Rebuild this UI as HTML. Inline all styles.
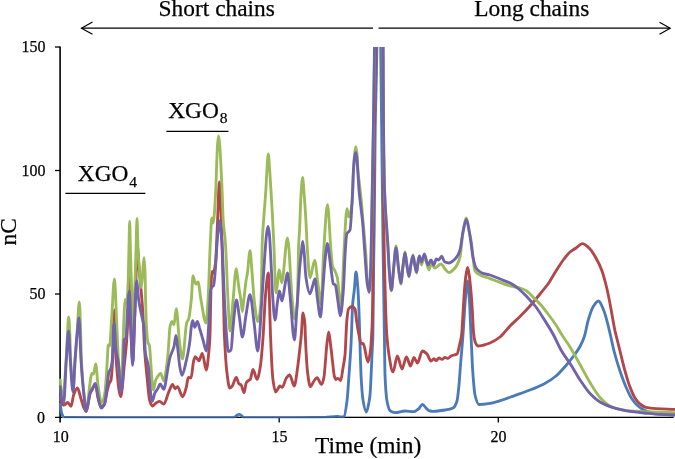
<!DOCTYPE html>
<html><head><meta charset="utf-8"><title>Chromatogram</title>
<style>
html,body{margin:0;padding:0;background:#fff;}
svg{display:block;}
text{font-family:"Liberation Serif",serif;fill:#000;}
.t{opacity:0.999;stroke:#000;stroke-width:0.25px;}
</style></head>
<body>
<svg width="675" height="459" viewBox="0 0 675 459">
<rect width="675" height="459" fill="#fff"/>
<defs><clipPath id="plot"><rect x="56" y="47" width="619" height="371.3"/></clipPath></defs>
<!-- axes -->
<g stroke="#000" fill="none">
<line x1="60.1" y1="46.4" x2="60.1" y2="422.6" stroke-width="1.6"/>
<line x1="55" y1="417.35" x2="673.6" y2="417.35" stroke-width="1.4"/>
<line x1="55" y1="47" x2="60" y2="47" stroke-width="1.3"/>
<line x1="55" y1="170.5" x2="60" y2="170.5" stroke-width="1.3"/>
<line x1="55" y1="294" x2="60" y2="294" stroke-width="1.3"/>
<line x1="279.2" y1="417" x2="279.2" y2="422.6" stroke-width="1.3"/>
<line x1="498.3" y1="417" x2="498.3" y2="422.6" stroke-width="1.3"/>
</g>
<!-- curves -->
<g clip-path="url(#plot)" fill="none" stroke-width="2.85" stroke-linejoin="round" stroke-linecap="round">
<path d="M60.3 404.0C60.8 408.0 61.2 411.8 61.7 413.3C62.4 415.4 63.0 417.3 63.7 417.3C65.8 417.4 67.9 417.4 70.0 417.4C80.0 417.5 90.0 417.6 100.0 417.6C133.3 417.6 166.7 417.6 200.0 417.6C211.2 417.6 222.3 417.6 233.5 417.6C234.2 417.6 234.8 417.0 235.5 416.6C236.2 416.2 236.8 415.2 237.5 414.9C238.0 414.7 238.6 414.4 239.1 414.4C239.6 414.4 240.2 414.7 240.7 414.9C241.3 415.2 241.9 416.2 242.5 416.6C243.1 417.0 243.6 417.6 244.2 417.6C262.8 417.6 281.4 417.6 300.0 417.6C308.3 417.6 316.7 417.5 325.0 417.4C329.0 417.3 333.0 416.4 337.0 416.4C338.3 416.4 339.7 417.0 341.0 417.0C342.0 417.0 343.0 416.9 344.0 416.6C345.0 416.3 346.0 408.6 347.0 401.0C347.7 395.9 348.3 384.3 349.0 375.0C349.7 365.7 350.3 357.4 351.0 345.0C351.6 334.5 352.1 311.2 352.7 304.0C353.2 297.2 353.8 295.1 354.3 290.0C354.9 284.6 355.4 272.0 356.0 272.0C356.7 272.0 357.3 281.0 358.0 290.0C358.4 295.8 358.9 308.6 359.3 321.0C359.5 327.7 359.8 337.5 360.0 345.0C360.3 355.7 360.7 368.8 361.0 375.0C361.7 387.3 362.3 396.1 363.0 400.0C364.1 406.6 365.3 412.0 366.4 412.0C367.3 412.0 368.1 406.5 369.0 402.0C369.3 400.3 369.7 398.3 370.0 395.0C370.7 388.4 371.3 369.1 372.0 355.0C372.3 348.6 372.6 345.9 372.9 335.0C373.2 325.3 373.4 280.5 373.7 261.0C373.9 248.8 374.0 242.4 374.2 230.0C374.5 205.1 374.9 152.5 375.2 130.0C375.8 91.7 376.3 90.2 376.9 47.0C377.5 -1.3 378.2 -300.0 378.8 -300.0C379.4 -300.0 380.1 -22.6 380.7 47.0C381.0 83.6 381.4 101.7 381.7 130.0C382.1 166.8 382.6 210.5 383.0 243.0C383.5 278.0 383.9 304.1 384.4 335.0C384.6 348.3 384.8 370.1 385.0 375.0C385.7 391.5 386.3 397.4 387.0 401.0C388.0 406.4 389.0 409.8 390.0 410.6C391.7 411.9 393.3 412.6 395.0 412.6C398.3 412.6 401.7 411.0 405.0 411.0C408.0 411.0 411.0 411.6 414.0 411.6C415.5 411.6 417.0 410.1 418.5 409.0C419.9 408.0 421.2 404.4 422.6 404.4C423.7 404.4 424.9 406.9 426.0 408.0C427.0 409.0 428.0 410.3 429.0 410.6C430.3 411.0 431.7 411.4 433.0 411.4C437.0 411.4 441.0 410.7 445.0 410.0C447.7 409.6 450.3 409.3 453.0 408.0C454.3 407.4 455.7 405.1 457.0 401.0C457.7 398.9 458.3 391.7 459.0 385.0C459.5 379.9 460.0 371.3 460.5 365.0C461.3 354.4 462.2 346.2 463.0 335.0C463.8 324.7 464.5 308.2 465.3 300.0C466.1 291.8 466.8 281.0 467.6 281.0C468.2 281.0 468.8 291.4 469.4 300.0C469.9 307.6 470.5 323.8 471.0 335.0C471.7 349.0 472.3 366.1 473.0 375.0C473.7 383.9 474.3 392.3 475.0 395.0C476.3 400.5 477.7 404.5 479.0 404.5C482.7 404.5 486.3 403.9 490.0 403.3C493.3 402.8 496.7 401.7 500.0 400.7C504.7 399.3 509.3 397.5 514.0 395.8C519.3 393.9 524.7 392.1 530.0 390.0C534.7 388.2 539.3 386.4 544.0 384.0C548.0 381.9 552.0 379.3 556.0 376.0C559.3 373.3 562.7 369.3 566.0 365.5C568.7 362.4 571.3 359.2 574.0 355.5C576.0 352.8 578.0 350.2 580.0 346.5C581.5 343.7 583.0 340.6 584.5 336.0C585.7 332.4 586.8 325.0 588.0 321.0C589.7 315.3 591.3 309.7 593.0 307.0C594.8 304.1 596.6 301.0 598.4 301.0C600.3 301.0 602.1 306.5 604.0 311.0C605.3 314.2 606.7 319.9 608.0 325.0C608.8 328.1 609.6 331.6 610.4 335.0C611.6 340.2 612.8 346.4 614.0 351.0C616.0 358.7 618.0 365.1 620.0 371.0C622.0 376.9 624.0 382.4 626.0 387.0C628.0 391.6 630.0 396.1 632.0 399.0C634.0 401.9 636.0 404.3 638.0 406.0C640.0 407.7 642.0 409.1 644.0 410.0C646.7 411.2 649.3 412.0 652.0 412.6C656.0 413.4 660.0 414.1 664.0 414.4C668.0 414.7 672.0 415.0 676.0 415.0" stroke="#4a7aba"/>
<path d="M60.3 398.0C61.4 402.4 62.6 405.3 63.7 405.3C64.4 405.3 65.0 404.5 65.7 404.0C66.4 403.5 67.0 402.4 67.7 402.4C68.8 402.4 69.9 406.4 71.0 406.4C71.9 406.4 72.8 397.0 73.7 394.7C74.9 391.5 76.2 388.0 77.4 388.0C78.6 388.0 79.8 395.1 81.0 398.7C82.0 401.7 83.0 406.0 84.0 408.0C84.8 409.5 85.5 411.5 86.3 411.5C87.5 411.5 88.8 397.3 90.0 394.0C90.8 391.9 91.5 390.9 92.3 389.5C93.3 387.7 94.4 384.5 95.4 384.5C96.3 384.5 97.1 394.8 98.0 398.0C99.0 401.7 100.0 406.7 101.0 406.7C102.2 406.7 103.3 405.6 104.5 404.0C105.5 402.7 106.4 393.9 107.4 390.0C108.1 387.3 108.7 384.6 109.4 383.0C109.9 381.7 110.5 381.7 111.0 380.0C111.5 378.3 112.1 369.1 112.6 360.0C113.2 349.7 113.8 310.0 114.4 310.0C115.0 310.0 115.6 351.8 116.2 360.0C117.7 380.5 119.2 396.7 120.7 396.7C122.0 396.7 123.3 374.3 124.6 362.0C125.3 355.7 125.9 350.8 126.6 342.0C127.0 336.3 127.5 327.7 127.9 318.0C128.4 307.6 128.8 278.0 129.3 278.0C129.8 278.0 130.3 318.9 130.8 330.0C131.5 344.9 132.1 362.0 132.8 362.0C133.5 362.0 134.3 328.2 135.0 310.0C135.8 290.1 136.6 247.0 137.4 247.0C138.0 247.0 138.6 263.1 139.2 270.0C139.8 276.9 140.4 282.1 141.0 289.0C141.6 295.9 142.2 302.4 142.8 312.0C143.4 321.6 144.0 341.1 144.6 350.0C145.4 361.8 146.2 368.8 147.0 376.7C147.9 385.6 148.8 397.7 149.7 400.7C150.6 403.6 151.4 406.0 152.3 406.0C153.6 406.0 155.0 403.4 156.3 402.7C157.4 402.1 158.6 401.3 159.7 401.3C161.0 401.3 162.4 404.0 163.7 404.0C165.5 404.0 167.2 395.0 169.0 391.3C170.2 388.8 171.4 384.4 172.6 384.4C173.4 384.4 174.2 388.7 175.0 388.7C175.8 388.7 176.6 386.7 177.4 386.7C179.2 386.7 180.9 396.7 182.7 396.7C183.9 396.7 185.1 391.5 186.3 387.3C187.0 384.9 187.6 377.3 188.3 377.3C189.2 377.3 190.1 378.0 191.0 378.0C191.9 378.0 192.8 363.8 193.7 360.7C194.2 358.9 194.8 356.7 195.3 356.7C196.5 356.7 197.8 360.7 199.0 360.7C200.1 360.7 201.2 353.3 202.3 353.3C203.6 353.3 205.0 370.0 206.3 370.0C207.2 370.0 208.1 359.4 209.0 350.0C209.3 346.5 209.7 342.9 210.0 335.0C210.2 329.4 210.5 309.3 210.7 300.0C210.9 292.0 211.1 283.7 211.3 280.0C211.5 275.7 211.8 271.3 212.0 271.3C212.3 271.3 212.6 273.5 212.9 273.5C213.2 273.5 213.6 272.4 213.9 271.5C214.5 269.9 215.0 267.0 215.6 262.0C216.2 256.8 216.8 237.6 217.4 225.0C218.1 211.0 218.7 182.0 219.4 182.0C220.1 182.0 220.9 210.0 221.6 230.0C222.2 245.4 222.7 268.4 223.3 290.0C223.7 304.0 224.0 326.6 224.4 335.0C225.3 354.9 226.1 366.0 227.0 373.0C227.9 380.3 228.8 388.0 229.7 388.0C230.6 388.0 231.4 387.0 232.3 386.0C233.6 384.5 235.0 377.3 236.3 377.3C237.2 377.3 238.1 383.5 239.0 384.0C239.7 384.4 240.3 384.3 241.0 384.7C242.0 385.3 243.0 392.7 244.0 392.7C244.8 392.7 245.5 383.9 246.3 382.7C247.0 381.6 247.6 381.2 248.3 380.7C249.0 380.2 249.6 380.1 250.3 379.3C251.2 378.3 252.1 369.3 253.0 369.3C254.3 369.3 255.7 379.3 257.0 379.3C258.1 379.3 259.2 373.0 260.3 366.7C261.2 361.6 262.1 349.9 263.0 338.0C263.8 327.0 264.7 303.9 265.5 295.0C266.5 284.7 267.4 273.0 268.4 273.0C268.7 273.0 269.0 286.6 269.3 295.0C269.7 306.2 270.1 325.3 270.5 335.0C271.3 355.2 272.2 374.0 273.0 380.0C273.9 386.5 274.8 392.0 275.7 392.0C276.4 392.0 277.0 390.3 277.7 389.3C278.4 388.3 279.0 386.0 279.7 386.0C280.6 386.0 281.4 387.3 282.3 387.3C283.6 387.3 285.0 379.7 286.3 378.0C287.4 376.6 288.6 375.0 289.7 375.0C291.2 375.0 292.8 386.0 294.3 386.0C295.4 386.0 296.6 374.5 297.7 366.7C298.4 362.1 299.0 355.9 299.7 350.0C300.2 345.3 300.8 340.8 301.3 335.0C301.9 328.8 302.4 313.0 303.0 313.0C303.7 313.0 304.3 316.8 305.0 325.0C305.1 326.2 305.2 332.6 305.3 335.0C306.1 354.0 306.9 367.0 307.7 373.3C308.6 380.1 309.4 386.7 310.3 386.7C311.5 386.7 312.8 382.6 314.0 381.0C315.0 379.7 316.0 377.6 317.0 377.6C318.5 377.6 320.0 384.5 321.5 384.5C322.3 384.5 323.2 381.2 324.0 377.0C324.4 374.8 324.9 367.9 325.3 363.0C325.8 357.3 326.3 349.4 326.8 345.0C327.4 339.4 328.1 332.0 328.7 332.0C329.3 332.0 330.0 340.2 330.6 345.0C331.3 350.3 332.0 357.2 332.7 363.0C333.2 367.4 333.8 374.2 334.3 376.0C334.9 377.9 335.4 379.5 336.0 379.5C336.5 379.5 337.0 378.3 337.5 378.3C338.0 378.3 338.5 378.7 339.0 379.0C339.5 379.3 340.1 380.6 340.6 380.6C341.4 380.6 342.2 372.7 343.0 368.0C343.7 364.1 344.3 361.5 345.0 355.0C345.6 349.1 346.2 327.1 346.8 321.0C347.4 315.2 347.9 309.8 348.5 309.0C349.7 307.3 350.8 306.5 352.0 306.5C353.0 306.5 354.0 307.4 355.0 309.0C355.5 309.9 356.1 317.5 356.6 321.0C357.4 326.3 358.2 331.2 359.0 335.0C359.7 338.1 360.3 342.5 361.0 343.0C361.8 343.6 362.6 343.4 363.4 344.0C364.9 345.1 366.5 362.0 368.0 362.0C368.8 362.0 369.7 356.3 370.5 350.0C370.9 347.2 371.2 342.0 371.6 335.0C372.0 328.0 372.3 328.2 372.7 300.0C372.7 297.4 372.8 268.8 372.8 261.0C372.9 245.5 372.9 238.0 373.0 230.0C373.4 182.1 373.8 152.4 374.2 125.0C374.7 93.0 375.1 80.3 375.6 47.0C376.6 -26.8 377.7 -300.0 378.7 -300.0C380.1 -300.0 381.4 -133.9 382.8 47.0C382.9 64.6 383.1 101.2 383.2 125.0C383.3 148.8 383.5 173.8 383.6 191.0C383.8 212.4 383.9 231.2 384.1 243.0C384.3 254.8 384.4 262.5 384.6 270.0C385.0 286.6 385.3 300.9 385.7 311.0C386.1 321.1 386.4 330.1 386.8 335.0C387.5 344.9 388.3 350.6 389.0 355.0C390.3 363.0 391.7 372.0 393.0 372.0C394.5 372.0 395.9 356.0 397.4 356.0C398.9 356.0 400.5 369.0 402.0 369.0C403.5 369.0 404.9 357.0 406.4 357.0C407.8 357.0 409.2 366.0 410.6 366.0C411.7 366.0 412.9 357.4 414.0 357.4C415.1 357.4 416.3 363.0 417.4 363.0C419.1 363.0 420.7 351.0 422.4 351.0C423.9 351.0 425.5 352.5 427.0 354.0C428.3 355.3 429.7 361.0 431.0 361.0C432.0 361.0 433.0 358.6 434.0 358.6C434.7 358.6 435.3 360.6 436.0 360.6C437.0 360.6 438.0 358.0 439.0 358.0C440.0 358.0 441.0 359.4 442.0 359.4C443.0 359.4 444.0 357.4 445.0 357.4C446.0 357.4 447.0 358.4 448.0 358.4C449.0 358.4 450.0 356.5 451.0 356.0C453.0 355.0 455.0 355.3 457.0 354.0C458.0 353.3 459.0 347.3 460.0 343.0C460.5 340.7 461.1 339.0 461.6 335.0C462.1 331.0 462.7 318.4 463.2 310.0C463.6 303.7 464.0 296.0 464.4 291.0C464.9 284.4 465.5 278.4 466.0 275.0C466.5 271.6 467.1 267.4 467.6 267.4C468.1 267.4 468.7 271.6 469.2 275.0C469.8 278.6 470.3 284.7 470.9 291.0C471.4 296.2 471.8 302.8 472.3 310.0C472.7 316.7 473.2 329.2 473.6 333.0C474.1 337.6 474.7 340.7 475.2 342.0C476.1 344.2 477.1 346.0 478.0 346.0C480.0 346.0 482.0 345.4 484.0 345.0C486.0 344.6 488.0 343.8 490.0 343.0C493.3 341.6 496.7 339.6 500.0 337.0C501.0 336.2 502.0 335.1 503.0 334.0C505.3 331.5 507.7 328.4 510.0 326.0C513.3 322.5 516.7 319.8 520.0 316.5C523.3 313.2 526.7 309.7 530.0 306.0C533.3 302.3 536.7 298.1 540.0 294.0C542.7 290.7 545.3 287.8 548.0 284.0C550.7 280.2 553.3 275.2 556.0 271.0C558.7 266.8 561.3 262.5 564.0 259.0C566.0 256.4 568.0 253.7 570.0 252.0C572.0 250.3 574.0 249.4 576.0 248.0C578.1 246.6 580.3 243.6 582.4 243.6C584.9 243.6 587.5 246.5 590.0 249.0C592.0 251.0 594.0 254.5 596.0 258.0C598.0 261.5 600.0 265.5 602.0 271.0C603.7 275.5 605.3 282.0 607.0 289.0C608.3 294.6 609.7 302.0 611.0 309.0C612.3 316.0 613.7 325.0 615.0 331.0C615.3 332.5 615.7 333.7 616.0 335.0C617.3 340.3 618.7 345.7 620.0 351.0C621.7 357.7 623.3 365.1 625.0 371.0C626.7 376.9 628.3 382.7 630.0 387.0C631.7 391.3 633.3 395.4 635.0 398.0C636.7 400.6 638.3 402.7 640.0 404.0C642.0 405.6 644.0 407.0 646.0 407.4C649.3 408.1 652.7 408.4 656.0 408.6C662.7 409.0 669.3 409.4 676.0 409.4" stroke="#b24648"/>
<path d="M60.3 380.0C61.2 393.3 62.1 397.0 63.0 397.0C64.0 397.0 65.1 375.7 66.1 360.0C66.5 353.4 67.0 342.0 67.4 335.0C67.8 328.0 68.3 317.0 68.7 317.0C69.1 317.0 69.5 326.2 69.9 335.0C70.1 340.1 70.4 355.7 70.6 360.0C71.5 376.0 72.3 388.0 73.2 388.0C73.9 388.0 74.5 369.4 75.2 360.0C75.8 351.1 76.5 342.0 77.1 333.0C77.8 322.6 78.6 302.0 79.3 302.0C79.8 302.0 80.2 319.5 80.7 333.0C80.9 339.8 81.2 354.9 81.4 360.0C82.2 378.0 83.1 385.3 83.9 393.0C84.7 400.4 85.5 410.0 86.3 410.0C87.6 410.0 89.0 389.2 90.3 381.0C90.8 378.1 91.2 373.3 91.7 373.3C92.3 373.3 92.9 374.0 93.5 374.0C94.2 374.0 95.0 364.0 95.7 364.0C96.5 364.0 97.2 380.1 98.0 385.0C99.2 392.9 100.5 402.7 101.7 402.7C102.8 402.7 103.9 398.0 105.0 392.0C105.7 388.0 106.5 372.7 107.2 362.0C107.6 356.7 107.9 345.0 108.3 345.0C108.7 345.0 109.2 346.0 109.6 346.0C110.3 346.0 110.9 329.2 111.6 320.0C112.5 307.2 113.5 279.0 114.4 279.0C115.3 279.0 116.1 312.8 117.0 330.0C117.7 343.2 118.3 362.7 119.0 370.0C119.7 377.3 120.3 385.0 121.0 385.0C121.7 385.0 122.3 360.5 123.0 345.0C123.4 334.9 123.9 316.9 124.3 310.0C124.6 305.2 124.9 299.5 125.2 299.5C125.7 299.5 126.1 303.5 126.6 303.5C127.0 303.5 127.3 297.8 127.7 292.0C127.9 288.9 128.1 282.6 128.3 276.0C128.5 269.4 128.7 257.9 128.9 250.0C129.2 239.5 129.4 221.5 129.7 221.5C129.9 221.5 130.2 241.5 130.4 250.0C130.7 259.7 130.9 267.7 131.2 276.0C131.5 284.3 131.7 291.8 132.0 300.0C132.4 312.3 132.8 338.0 133.2 338.0C133.6 338.0 134.0 312.3 134.4 300.0C134.7 291.8 134.9 284.3 135.2 276.0C135.5 267.7 135.7 258.5 136.0 250.0C136.3 239.3 136.7 218.5 137.0 218.5C137.3 218.5 137.7 241.0 138.0 248.0C138.4 255.8 138.7 260.8 139.1 266.0C139.5 271.2 139.8 276.7 140.2 280.0C140.6 283.3 140.9 287.5 141.3 287.5C141.6 287.5 142.0 281.9 142.3 278.0C142.6 274.9 142.8 268.9 143.1 266.0C143.4 262.4 143.8 257.7 144.1 257.7C144.4 257.7 144.8 265.9 145.1 275.0C145.3 279.5 145.4 293.5 145.6 300.0C145.9 310.4 146.1 320.4 146.4 325.0C146.9 334.2 147.5 341.1 148.0 342.7C148.4 344.0 148.9 343.7 149.3 345.0C149.8 346.4 150.2 354.8 150.7 361.0C151.0 365.4 151.4 373.1 151.7 376.7C152.3 382.8 152.8 390.0 153.4 390.0C154.2 390.0 154.9 381.8 155.7 380.0C156.8 377.3 157.9 375.9 159.0 374.7C159.6 374.1 160.1 373.3 160.7 373.3C161.7 373.3 162.7 380.7 163.7 380.7C164.8 380.7 165.9 371.3 167.0 363.3C167.4 360.1 167.9 355.0 168.3 350.0C168.9 343.4 169.4 329.3 170.0 326.7C170.7 323.6 171.3 321.3 172.0 321.3C172.7 321.3 173.3 324.7 174.0 324.7C174.8 324.7 175.5 308.7 176.3 308.7C177.3 308.7 178.3 332.4 179.3 340.0C180.4 348.1 181.4 359.0 182.5 359.0C183.9 359.0 185.3 326.9 186.7 322.7C187.4 320.7 188.0 320.7 188.7 318.7C189.6 316.1 190.4 308.5 191.3 300.0C191.9 294.5 192.4 276.0 193.0 276.0C193.9 276.0 194.7 284.0 195.6 284.0C196.4 284.0 197.2 282.0 198.0 282.0C199.0 282.0 200.0 294.7 201.0 300.0C202.7 308.8 204.3 323.0 206.0 323.0C206.7 323.0 207.3 310.4 208.0 300.0C208.8 288.1 209.5 258.1 210.3 243.0C210.8 233.2 211.3 218.0 211.8 218.0C212.3 218.0 212.7 223.0 213.2 223.0C214.0 223.0 214.9 205.5 215.7 191.0C216.3 180.6 216.9 152.3 217.5 145.0C217.9 140.6 218.2 135.8 218.6 135.8C219.0 135.8 219.3 140.9 219.7 145.0C220.5 153.9 221.3 172.9 222.1 191.0C222.5 199.3 222.8 214.2 223.2 220.0C223.9 231.5 224.7 232.7 225.4 243.0C226.3 255.2 227.1 284.4 228.0 300.0C228.7 312.0 229.3 331.0 230.0 331.0C231.0 331.0 232.0 310.9 233.0 301.0C234.1 290.1 235.2 268.7 236.3 268.7C237.0 268.7 237.8 280.0 238.5 285.0C239.3 290.7 240.2 295.2 241.0 301.0C241.5 304.2 241.9 311.5 242.4 311.5C242.8 311.5 243.3 304.6 243.7 301.0C244.6 293.9 245.4 284.2 246.3 279.0C246.6 277.0 247.0 276.0 247.3 274.0C248.2 268.5 249.1 250.7 250.0 250.7C250.7 250.7 251.3 264.3 252.0 272.0C252.8 280.8 253.5 294.7 254.3 301.0C255.5 310.6 256.6 321.5 257.8 321.5C258.9 321.5 259.9 314.4 261.0 301.0C261.4 295.5 261.9 251.2 262.3 241.0C262.9 227.7 263.4 223.1 264.0 215.0C264.6 206.4 265.2 200.4 265.8 191.0C266.2 184.8 266.6 174.7 267.0 169.0C267.4 162.8 267.9 153.8 268.3 153.8C268.7 153.8 269.2 163.2 269.6 169.0C270.1 175.2 270.5 183.3 271.0 191.0C271.5 198.7 271.9 206.4 272.4 215.0C272.8 223.0 273.3 231.9 273.7 241.0C274.5 257.2 275.2 293.0 276.0 293.0C277.1 293.0 278.2 270.0 279.3 270.0C280.1 270.0 280.9 282.7 281.7 282.7C283.6 282.7 285.6 238.0 287.5 238.0C289.1 238.0 290.7 286.2 292.3 301.0C293.1 308.4 293.9 319.0 294.7 319.0C295.6 319.0 296.5 312.4 297.4 301.0C297.8 295.5 298.3 252.4 298.7 243.0C299.0 237.2 299.2 235.8 299.5 231.0C300.0 222.0 300.5 202.5 301.0 195.0C301.5 187.0 302.1 177.5 302.6 177.5C303.1 177.5 303.7 188.3 304.2 195.0C304.8 202.6 305.4 211.3 306.0 222.0C306.3 227.9 306.7 237.8 307.0 243.0C308.0 258.7 309.0 277.7 310.0 277.7C311.6 277.7 313.1 260.3 314.7 260.3C315.8 260.3 316.9 276.7 318.0 284.3C319.0 291.3 320.0 304.3 321.0 304.3C321.9 304.3 322.8 264.7 323.7 251.0C325.0 231.7 326.2 204.7 327.5 204.7C328.7 204.7 329.8 238.4 331.0 251.0C331.6 257.1 332.1 265.3 332.7 267.0C333.5 269.3 334.2 269.3 335.0 271.0C335.8 272.7 336.5 274.4 337.3 277.7C338.2 281.6 339.1 295.3 340.0 301.7C340.4 304.8 340.9 309.7 341.3 309.7C341.9 309.7 342.4 287.6 343.0 275.0C343.3 267.6 343.7 257.2 344.0 251.0C345.0 232.4 346.0 208.7 347.0 208.7C347.6 208.7 348.1 216.7 348.7 216.7C349.3 216.7 349.8 214.9 350.4 213.0C351.0 210.9 351.7 207.1 352.3 200.0C352.5 198.1 352.6 193.8 352.8 190.0C353.0 184.7 353.3 175.7 353.5 171.0C353.9 163.6 354.2 157.2 354.6 154.0C355.0 150.5 355.4 146.7 355.8 146.7C356.2 146.7 356.6 150.4 357.0 154.0C357.3 157.0 357.7 167.1 358.0 171.0C358.5 177.3 359.1 180.2 359.6 185.0C360.1 189.8 360.7 194.5 361.2 200.0C361.9 206.9 362.5 215.3 363.2 223.0C364.0 232.3 364.8 240.3 365.6 251.0C366.3 259.9 366.9 277.0 367.6 282.0C368.2 286.5 368.8 291.0 369.4 291.0C369.8 291.0 370.2 282.6 370.6 275.0C370.8 271.8 370.9 267.0 371.1 261.0C371.3 253.8 371.5 240.8 371.7 230.0C372.3 197.4 372.9 163.7 373.5 125.0C373.9 101.3 374.2 74.8 374.6 47.0C376.0 -57.0 377.3 -300.0 378.7 -300.0C380.1 -300.0 381.6 -137.4 383.0 47.0C383.1 64.2 383.3 109.7 383.4 125.0C383.5 136.5 383.6 143.4 383.7 150.0C384.0 167.6 384.2 183.4 384.5 191.0C385.2 211.9 386.0 218.5 386.7 230.0C387.0 234.7 387.3 238.4 387.6 243.0C388.2 252.8 388.9 267.9 389.5 275.0C390.1 282.1 390.8 291.0 391.4 291.0C392.1 291.0 392.8 276.9 393.5 270.0C394.3 261.8 395.2 246.0 396.0 246.0C396.8 246.0 397.7 261.8 398.5 268.0C399.3 274.2 400.2 284.0 401.0 284.0C401.7 284.0 402.3 271.2 403.0 266.0C403.7 260.8 404.3 252.0 405.0 252.0C405.7 252.0 406.3 261.9 407.0 266.0C407.7 270.1 408.3 277.0 409.0 277.0C409.7 277.0 410.3 267.5 411.0 264.0C411.7 260.5 412.3 255.0 413.0 255.0C413.7 255.0 414.3 262.8 415.0 266.0C415.5 268.6 416.1 273.0 416.6 273.0C417.1 273.0 417.5 265.5 418.0 263.0C418.5 260.5 418.9 257.0 419.4 257.0C420.1 257.0 420.7 265.0 421.4 265.0C422.4 265.0 423.4 257.0 424.4 257.0C425.9 257.0 427.5 270.0 429.0 270.0C429.7 270.0 430.3 264.0 431.0 264.0C432.3 264.0 433.7 268.0 435.0 268.0C437.0 268.0 439.0 264.0 441.0 264.0C442.3 264.0 443.7 267.6 445.0 269.0C446.3 270.4 447.7 272.6 449.0 272.6C451.0 272.6 453.0 270.3 455.0 268.0C456.7 266.1 458.3 263.1 460.0 257.0C461.0 253.3 462.0 237.6 463.0 232.0C464.1 225.7 465.3 218.0 466.4 218.0C467.4 218.0 468.5 227.9 469.5 233.0C470.2 236.3 470.8 238.5 471.5 243.0C472.0 246.4 472.5 254.0 473.0 258.0C473.7 263.3 474.3 269.9 475.0 271.0C476.7 273.7 478.3 274.1 480.0 275.0C483.3 276.7 486.7 277.4 490.0 278.6C493.3 279.8 496.7 281.2 500.0 282.4C503.3 283.6 506.7 285.1 510.0 286.0C513.3 286.9 516.7 287.1 520.0 288.0C522.0 288.6 524.0 289.4 526.0 290.6C528.7 292.1 531.3 295.4 534.0 298.0C536.0 299.9 538.0 301.8 540.0 304.0C542.7 306.9 545.3 310.5 548.0 314.0C550.7 317.5 553.3 321.0 556.0 325.0C558.0 328.0 560.0 331.8 562.0 335.0C564.7 339.2 567.3 342.7 570.0 347.0C573.3 352.4 576.7 358.6 580.0 364.5C583.3 370.4 586.7 377.0 590.0 382.5C593.3 388.0 596.7 393.9 600.0 397.5C603.3 401.1 606.7 404.4 610.0 406.0C613.3 407.6 616.7 408.7 620.0 409.4C623.3 410.1 626.7 410.7 630.0 411.0C636.7 411.5 643.3 411.8 650.0 412.0C658.7 412.3 667.3 412.5 676.0 412.6" stroke="#9bbb59"/>
<path d="M60.3 386.7C61.4 402.7 62.6 402.7 63.7 402.7C64.6 402.7 65.4 372.3 66.3 360.0C67.1 349.1 67.8 331.0 68.6 331.0C69.2 331.0 69.7 352.0 70.3 360.0C71.2 372.8 72.1 392.0 73.0 392.0C73.7 392.0 74.3 369.4 75.0 360.0C75.7 350.6 76.3 341.7 77.0 335.0C77.7 328.3 78.3 318.0 79.0 318.0C79.7 318.0 80.3 349.6 81.0 360.0C81.9 374.1 82.8 385.0 83.7 393.0C84.6 400.7 85.4 411.3 86.3 411.3C87.5 411.3 88.8 396.2 90.0 393.0C90.8 391.0 91.5 390.1 92.3 388.7C93.3 386.8 94.4 383.3 95.4 383.3C96.3 383.3 97.1 392.2 98.0 396.0C99.0 400.4 100.0 408.0 101.0 408.0C102.1 408.0 103.2 406.8 104.3 405.0C105.2 403.5 106.1 393.1 107.0 386.7C107.7 382.0 108.3 374.1 109.0 372.0C109.7 369.9 110.3 370.1 111.0 368.0C111.4 366.6 111.9 364.1 112.3 360.0C112.9 354.7 113.4 323.0 114.0 323.0C114.7 323.0 115.3 344.9 116.0 350.0C116.8 355.8 117.5 356.6 118.3 362.0C119.2 368.3 120.1 392.0 121.0 392.0C121.9 392.0 122.8 382.3 123.7 360.0C123.8 357.5 123.9 340.3 124.0 340.0C124.7 338.3 125.3 339.3 126.0 338.0C126.5 337.0 127.0 316.6 127.5 310.0C128.1 301.7 128.8 291.0 129.4 291.0C129.9 291.0 130.5 317.6 131.0 330.0C131.5 342.4 132.1 365.3 132.6 365.3C133.2 365.3 133.9 333.3 134.5 320.0C135.2 305.4 135.9 281.0 136.6 281.0C137.3 281.0 138.0 295.3 138.7 300.0C139.8 307.4 140.9 311.9 142.0 317.3C142.7 320.6 143.3 321.4 144.0 326.7C144.4 330.1 144.9 348.5 145.3 352.0C146.3 360.2 147.3 359.1 148.3 366.0C149.0 370.6 149.6 384.9 150.3 390.0C151.0 395.1 151.6 401.3 152.3 401.3C153.2 401.3 154.1 394.5 155.0 392.7C155.9 390.9 156.8 390.2 157.7 388.7C158.6 387.3 159.4 384.0 160.3 384.0C161.4 384.0 162.6 389.3 163.7 389.3C165.2 389.3 166.8 373.8 168.3 366.0C168.9 363.1 169.4 359.3 170.0 357.3C170.7 355.0 171.3 353.8 172.0 352.0C172.7 350.2 173.3 349.1 174.0 346.7C174.7 344.3 175.3 335.3 176.0 335.3C176.7 335.3 177.3 345.2 178.0 350.7C178.6 355.4 179.1 362.8 179.7 366.0C180.5 370.4 181.2 375.3 182.0 375.3C183.4 375.3 184.9 366.5 186.3 360.7C187.0 357.7 187.8 354.2 188.5 350.0C189.0 347.2 189.5 344.1 190.0 340.0C190.4 336.5 190.9 329.3 191.3 326.7C191.8 323.9 192.2 320.7 192.7 320.7C193.4 320.7 194.0 327.3 194.7 327.3C195.6 327.3 196.4 321.3 197.3 321.3C198.0 321.3 198.8 325.6 199.5 328.0C200.7 331.7 201.8 336.2 203.0 340.0C204.2 343.8 205.3 351.0 206.5 351.0C207.3 351.0 208.2 332.6 209.0 320.0C209.5 311.9 210.1 292.0 210.6 290.0C211.1 288.2 211.5 287.6 212.0 287.0C212.5 286.3 213.1 286.4 213.6 285.5C213.9 284.9 214.3 281.0 214.6 278.0C214.9 275.6 215.1 272.5 215.4 269.0C215.7 265.1 216.0 259.6 216.3 255.0C216.6 249.9 217.0 243.9 217.3 240.0C218.0 231.9 218.7 221.0 219.4 221.0C220.3 221.0 221.1 232.0 222.0 243.0C222.7 251.5 223.3 276.3 224.0 290.0C224.8 307.1 225.7 325.1 226.5 335.0C227.1 342.2 227.7 351.5 228.3 351.5C229.2 351.5 230.1 351.0 231.0 350.0C231.7 349.3 232.3 334.4 233.0 328.0C234.1 317.2 235.3 300.0 236.4 300.0C237.4 300.0 238.5 311.6 239.5 318.0C240.5 324.0 241.4 337.0 242.4 337.0C243.6 337.0 244.8 321.7 246.0 315.0C247.3 307.6 248.7 294.6 250.0 294.6C251.3 294.6 252.7 312.2 254.0 322.0C255.2 331.0 256.5 351.0 257.7 351.0C258.3 351.0 259.0 341.9 259.6 335.0C260.3 327.7 260.9 314.3 261.6 304.0C262.2 294.3 262.9 284.5 263.5 275.0C264.1 266.5 264.6 257.2 265.2 250.0C265.7 243.6 266.2 236.4 266.7 233.0C267.1 230.0 267.6 226.5 268.0 226.5C268.4 226.5 268.9 229.7 269.3 233.0C269.7 235.8 270.0 243.6 270.4 250.0C270.7 255.3 271.0 262.0 271.3 268.0C271.8 278.0 272.3 291.2 272.8 298.0C273.5 308.0 274.3 320.0 275.0 320.0C275.9 320.0 276.7 306.4 277.6 301.0C278.2 297.2 278.8 291.0 279.4 291.0C280.3 291.0 281.1 301.0 282.0 301.0C283.0 301.0 284.0 290.2 285.0 285.0C285.8 280.9 286.6 273.0 287.4 273.0C288.3 273.0 289.1 287.0 290.0 295.0C291.5 308.5 292.9 340.0 294.4 340.0C295.2 340.0 295.9 322.1 296.7 312.0C297.8 297.5 298.9 276.0 300.0 264.3C300.5 259.0 301.0 255.2 301.5 251.0C301.9 247.6 302.3 241.3 302.7 241.3C303.1 241.3 303.6 246.9 304.0 251.0C304.7 257.3 305.3 273.3 306.0 277.7C307.3 286.4 308.7 293.7 310.0 293.7C310.9 293.7 311.8 288.3 312.7 285.7C313.5 283.4 314.2 279.0 315.0 279.0C315.8 279.0 316.5 292.3 317.3 297.7C318.4 305.1 319.4 317.0 320.5 317.0C321.2 317.0 322.0 300.0 322.7 291.0C323.6 280.4 324.4 264.9 325.3 257.7C326.1 251.3 326.8 243.3 327.6 243.3C328.2 243.3 328.9 252.3 329.5 257.0C330.1 261.5 330.7 266.8 331.3 271.0C332.0 275.7 332.6 282.9 333.3 283.7C334.0 284.5 334.6 284.2 335.3 285.0C336.2 286.0 337.1 296.2 338.0 301.7C338.8 306.4 339.5 315.7 340.3 315.7C341.3 315.7 342.3 303.0 343.3 291.0C344.0 283.0 344.6 260.9 345.3 251.0C345.8 244.0 346.2 235.2 346.7 234.0C347.8 231.3 348.9 232.6 350.0 230.0C350.7 228.4 351.3 214.9 352.0 203.3C352.2 199.8 352.4 194.6 352.6 190.0C352.9 183.9 353.1 175.3 353.4 171.0C353.8 165.1 354.1 160.5 354.5 158.0C354.9 155.3 355.3 152.3 355.7 152.3C356.1 152.3 356.4 155.3 356.8 158.0C357.1 160.5 357.5 166.3 357.8 171.0C358.2 176.7 358.6 185.2 359.0 190.0C360.2 204.8 361.5 209.6 362.7 223.3C363.4 230.7 364.0 242.1 364.7 251.0C365.6 262.6 366.4 279.1 367.3 284.3C368.0 288.3 368.6 292.3 369.3 292.3C369.6 292.3 370.0 284.3 370.3 277.7C370.5 273.8 370.7 268.2 370.9 261.0C371.1 253.8 371.3 240.6 371.5 230.0C372.1 196.4 372.8 164.8 373.4 125.0C373.8 102.0 374.1 74.5 374.5 47.0C375.9 -59.1 377.3 -300.0 378.8 -300.0C380.2 -300.0 381.7 -138.8 383.1 47.0C383.2 64.1 383.4 109.7 383.5 125.0C383.6 136.5 383.7 143.4 383.8 150.0C384.1 167.6 384.3 183.6 384.6 191.0C385.4 212.3 386.1 218.2 386.9 230.0C387.2 234.6 387.5 238.3 387.8 243.0C388.4 252.5 389.0 268.2 389.6 275.0C390.2 281.8 390.8 290.0 391.4 290.0C392.1 290.0 392.8 276.4 393.5 270.0C394.3 262.4 395.2 248.0 396.0 248.0C396.8 248.0 397.7 262.3 398.5 268.0C399.3 273.7 400.2 283.0 401.0 283.0C401.7 283.0 402.3 270.9 403.0 266.0C403.7 261.1 404.3 253.0 405.0 253.0C405.7 253.0 406.3 262.2 407.0 266.0C407.7 269.8 408.3 276.0 409.0 276.0C409.7 276.0 410.3 267.2 411.0 264.0C411.7 260.8 412.3 256.0 413.0 256.0C413.7 256.0 414.3 263.2 415.0 266.0C415.5 268.3 416.1 272.0 416.6 272.0C417.1 272.0 417.5 264.5 418.0 262.0C418.5 259.5 418.9 256.0 419.4 256.0C420.1 256.0 420.7 262.0 421.4 262.0C422.4 262.0 423.4 254.0 424.4 254.0C425.6 254.0 426.8 265.0 428.0 265.0C429.0 265.0 430.0 260.0 431.0 260.0C431.9 260.0 432.8 265.0 433.7 265.0C434.6 265.0 435.4 259.0 436.3 259.0C437.1 259.0 437.8 260.0 438.6 260.0C439.6 260.0 440.7 256.3 441.7 256.3C442.6 256.3 443.6 261.2 444.5 261.7C446.0 262.5 447.5 263.0 449.0 263.0C450.7 263.0 452.3 261.4 454.0 260.0C455.3 258.9 456.7 257.3 458.0 255.0C458.7 253.8 459.3 252.3 460.0 250.0C461.0 246.6 462.0 236.6 463.0 232.0C464.1 226.8 465.3 219.5 466.4 219.5C467.4 219.5 468.5 227.4 469.5 233.0C470.0 235.7 470.5 239.6 471.0 243.0C471.7 247.5 472.3 253.7 473.0 257.0C474.0 261.9 475.0 266.5 476.0 268.0C478.0 270.9 480.0 272.2 482.0 273.0C484.7 274.1 487.3 274.2 490.0 275.0C493.3 276.0 496.7 277.6 500.0 279.0C504.0 280.6 508.0 281.8 512.0 284.0C514.7 285.5 517.3 287.7 520.0 290.0C522.7 292.3 525.3 295.2 528.0 298.0C530.7 300.8 533.3 303.5 536.0 307.0C538.8 310.7 541.7 315.5 544.5 320.0C547.3 324.5 550.2 328.9 553.0 334.0C555.7 338.8 558.3 345.4 561.0 350.0C564.3 355.7 567.7 359.8 571.0 365.0C574.3 370.1 577.5 376.2 580.8 381.0C584.0 385.8 587.3 390.7 590.5 394.0C593.7 397.3 596.8 400.1 600.0 402.0C603.3 404.0 606.7 405.4 610.0 406.6C613.3 407.8 616.7 408.6 620.0 409.4C623.3 410.2 626.7 410.9 630.0 411.4C634.7 412.1 639.3 412.5 644.0 413.0C649.3 413.5 654.7 414.1 660.0 414.4C665.3 414.7 670.7 414.9 676.0 415.0" stroke="#7062ab"/>
</g>
<line x1="64" y1="417.35" x2="673.6" y2="417.35" stroke="#000" stroke-width="1.2" opacity="0.28"/>
<!-- annotations -->
<g stroke="#000" stroke-width="1.2" fill="none">
<line x1="81.5" y1="28.2" x2="373" y2="28.2"/>
<polyline points="92.5,22 81.5,28.2 92.5,34.3"/>
<line x1="378.5" y1="28.2" x2="670" y2="28.2"/>
<polyline points="659.5,22.3 670.2,28.2 659.5,34.3"/>
<line x1="65.4" y1="193.4" x2="145.4" y2="193.4"/>
<line x1="166.4" y1="131.4" x2="228.4" y2="131.4"/>
</g>
<g class="t">
<text x="158.6" y="16.3" font-size="23.4">Short chains</text>
<text x="474.3" y="16.3" font-size="23.4">Long chains</text>
<text x="77.8" y="181.4" font-size="23.4">XGO<tspan font-size="15.5" dy="5.2" dx="0.8">4</tspan></text>
<text x="168.2" y="118" font-size="23.4">XGO<tspan font-size="15.5" dy="5.2" dx="0.8">8</tspan></text>
<text x="315" y="453.3" font-size="23.4">Time (min)</text>
<text transform="translate(15.7,245.5) rotate(-90)" font-size="23.4">nC</text>
<g font-size="16" text-anchor="end">
<text x="45.5" y="52.4">150</text>
<text x="45.5" y="175.9">100</text>
<text x="45.5" y="299.4">50</text>
<text x="45" y="422.8">0</text>
</g>
<g font-size="16" text-anchor="middle">
<text x="60.8" y="442.3">10</text>
<text x="279.6" y="442.3">15</text>
<text x="498.6" y="442.3">20</text>
</g>
</g>
</svg>
</body></html>
